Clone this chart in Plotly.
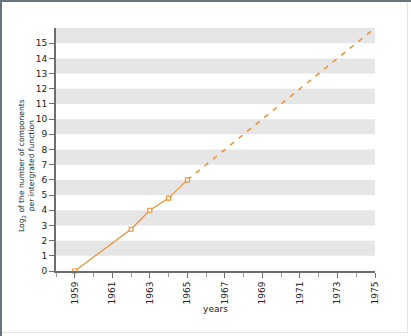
import plotly.graph_objects as go

# Measured points (year, log2 of components per integrated function)
years = [1959, 1962, 1963, 1964, 1965]
log2_components = [0, 2.75, 4, 4.8, 6]

# Extrapolated trend
trend_years = [1965, 1975]
trend_values = [6, 16]

x_tick_labels = [str(y) for y in range(1959, 1976, 2)]
y_tick_values = list(range(0, 16))

ORANGE = "#ee8f33"
AXIS = "#6e6e6e"
BAND = "#e6e6e6"
FONT = "DejaVu Sans"

W, H = 411, 336
L, R, T, B = 56, 36, 28, 65
PW, PH = W - L - R, H - T - B

fig = go.Figure()

fig.add_trace(go.Scatter(
    x=trend_years, y=trend_values, mode="lines",
    line=dict(color=ORANGE, width=1.5, dash="5px,6px"),
    hoverinfo="skip", showlegend=False,
))
fig.add_trace(go.Scatter(
    x=years, y=log2_components, mode="lines+markers",
    line=dict(color=ORANGE, width=1.2),
    marker=dict(symbol="square", size=4, color="white",
                line=dict(color=ORANGE, width=1.1)),
    cliponaxis=False, showlegend=False,
))

shapes = []
# alternating horizontal bands
for k in range(8):
    shapes.append(dict(type="rect", xref="paper", yref="y", x0=0, x1=1,
                       y0=2 * k + 1, y1=2 * k + 2, fillcolor=BAND,
                       line=dict(width=0), layer="below"))

def px_x(px):
    return (px - L) / PW

def px_y(py):
    return (H - B - py) / PH

# page frame: dark left/top, light right/bottom
shapes.append(dict(type="line", xref="paper", yref="paper",
                   x0=px_x(1), x1=px_x(1), y0=px_y(0), y1=px_y(336),
                   line=dict(color="#6b737c", width=2)))
shapes.append(dict(type="line", xref="paper", yref="paper",
                   x0=px_x(0), x1=px_x(411), y0=px_y(1), y1=px_y(1),
                   line=dict(color="#6b737c", width=2)))
shapes.append(dict(type="line", xref="paper", yref="paper",
                   x0=px_x(407.5), x1=px_x(407.5), y0=px_y(2), y1=px_y(333),
                   line=dict(color="#e4e4e4", width=1)))
shapes.append(dict(type="line", xref="paper", yref="paper",
                   x0=px_x(2), x1=px_x(407.5), y0=px_y(332.5), y1=px_y(332.5),
                   line=dict(color="#e4e4e4", width=1)))

fig.update_layout(
    width=W, height=H,
    margin=dict(l=L, r=R, t=T, b=B),
    paper_bgcolor="white", plot_bgcolor="white",
    font=dict(family=FONT, size=9, color="#222"),
    shapes=shapes,
    annotations=[dict(
        text="Log<sub>2</sub> of the number of components<br>per intergrated function",
        xref="paper", yref="paper", x=px_x(26), y=px_y(166),
        xanchor="center", yanchor="middle", textangle=-90,
        showarrow=False, font=dict(size=7.6, color="#222"),
    )],
    xaxis=dict(
        range=[1958, 1975], tickmode="array",
        tickvals=list(range(1959, 1976, 2)), ticktext=x_tick_labels,
        tickangle=-90, ticks="outside", ticklen=5, tickcolor=AXIS,
        minor=dict(dtick=1, tick0=1958, ticks="outside", ticklen=4,
                   tickcolor="#999", showgrid=False),
        showline=True, linecolor=AXIS, linewidth=2,
        showgrid=False, zeroline=False,
        tickfont=dict(size=9),
        title=dict(text="years", font=dict(size=9), standoff=2),
    ),
    yaxis=dict(
        range=[0, 16], tickmode="array", tickvals=y_tick_values,
        ticks="outside", ticklen=5, tickcolor=AXIS,
        showline=True, linecolor=AXIS, linewidth=2,
        showgrid=False, zeroline=False,
        tickfont=dict(size=9),
    ),
)

fig.write_html("out.html")
